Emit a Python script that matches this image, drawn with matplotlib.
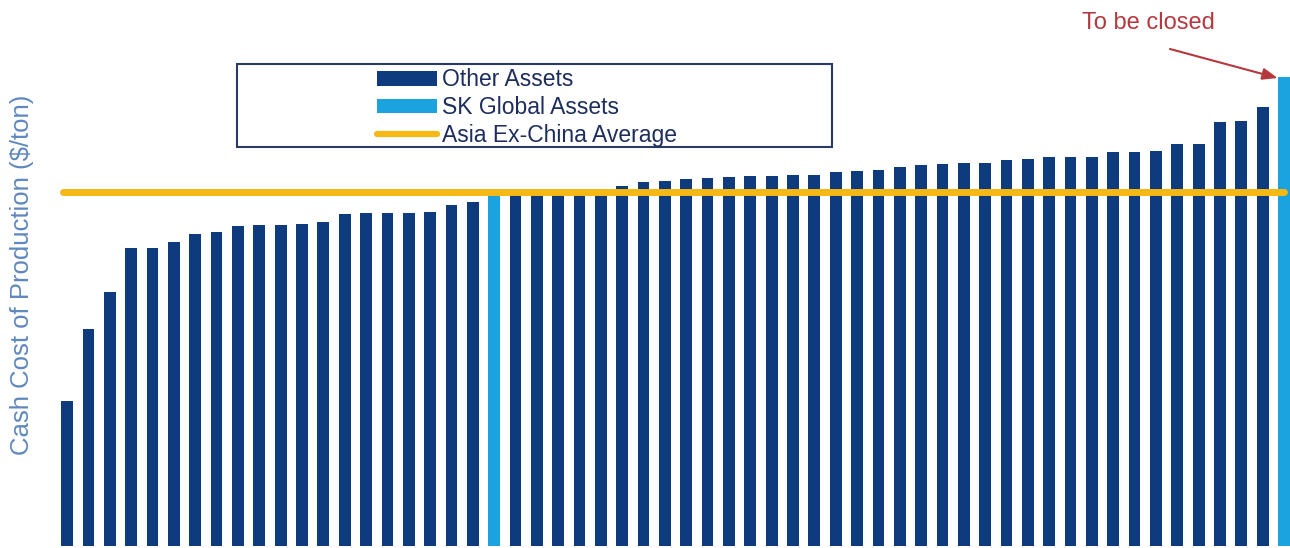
import matplotlib.pyplot as plt
from matplotlib.patches import Patch, Rectangle
from matplotlib.lines import Line2D

# cash cost per asset, sorted ascending (no axis scale shown, relative units)
costs = [145, 217, 254, 298, 298, 304, 312, 314, 320, 321,
         321, 322, 324, 332, 333, 333, 333, 334, 341, 344,
         352, 353, 354, 354, 355, 356, 360, 364, 365.5, 367,
         368, 369, 370, 370, 371, 371, 374, 375, 376, 379,
         381, 382, 383, 383, 386, 387, 389, 389, 389, 394,
         394, 395, 402, 402, 424, 425, 439, 469]
# indexes of SK Global assets
sk_assets = [20, 57]
asia_ex_china_avg = 354.5

labels = ['Other Assets', 'SK Global Assets', 'Asia Ex-China Average']
note = 'To be closed'

NAVY = '#0d3b7d'
LIGHT = '#1aa3de'
GOLD = '#f5b814'
TEXT = '#1c2d5e'
RED = '#b5383c'

plt.rcParams['font.family'] = ['Liberation Sans', 'DejaVu Sans']

fig = plt.figure(figsize=(12.9, 5.48), dpi=100)
W, H = 1290, 548
ax = fig.add_axes([56.5 / W, 2 / H, 1 - 56.5 / W, 544 / H])

colors = [LIGHT if i in sk_assets else NAVY for i in range(len(costs))]
ax.bar(range(len(costs)), costs, width=0.55, color=colors, zorder=2)
ax.plot([-0.2, len(costs) - 1], [asia_ex_china_avg] * 2, color=GOLD, lw=5, zorder=3,
        solid_capstyle='round')

ax.set_xlim(-0.5, 57.28)
ax.set_ylim(0, 544)
ax.axis('off')

fig.text(22 / W, 1 - 275 / H, 'Cash Cost of Production ($/ton)', rotation=90,
         ha='center', va='center', fontsize=18.5, color='#5f88bf')

# legend with a wide hand-drawn frame
handles = [Patch(facecolor=NAVY), Patch(facecolor=LIGHT),
           Line2D([], [], color=GOLD, lw=4.5, solid_capstyle='round')]
leg = fig.legend(handles, labels, loc='upper left', bbox_to_anchor=(366 / W, 1 - 57 / H),
                 frameon=False, fontsize=16.5, borderpad=0, handlelength=2.6,
                 handleheight=0.6, handletextpad=0.2, labelspacing=0.2, labelcolor=TEXT)
fig.patches.append(Rectangle((237 / W, 1 - 147 / H), 595 / W, 83 / H, fill=False,
                             edgecolor='#2b3a67', lw=1.5, transform=fig.transFigure))

# annotation for the last asset
last = len(costs) - 1
fig.text(1148 / W, 1 - 23 / H, note, ha='center', va='center', fontsize=17, color=RED)
ax.annotate('', xy=(last - 0.3, costs[last] - 1), xycoords='data',
            xytext=(1170 / W, 1 - 49 / H), textcoords='figure fraction',
            arrowprops=dict(arrowstyle='-|>,head_length=0.9,head_width=0.35', color=RED,
                            lw=1.5, shrinkA=0, shrinkB=0))

fig.savefig('out.png', dpi=100)
